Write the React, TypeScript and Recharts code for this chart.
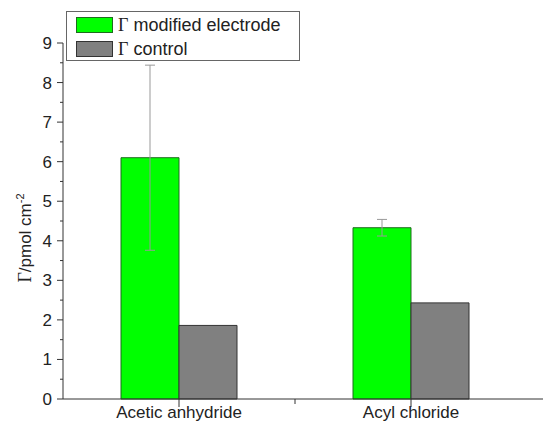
import { BarChart, Bar, XAxis, YAxis, ErrorBar } from 'recharts'

const categories = ['Acetic anhydride', 'Acyl chloride']
const modifiedValues = [6.1, 4.33]
const modifiedErrors = [2.34, 0.21]
const controlValues = [1.86, 2.43]
const yTicks = [0, 0.5, 1, 1.5, 2, 2.5, 3, 3.5, 4, 4.5, 5, 5.5, 6, 6.5, 7, 7.5, 8, 8.5, 9]

const chartData = categories.map((c, i) => ({
  category: c,
  modified: modifiedValues[i],
  modifiedErr: modifiedErrors[i],
  control: controlValues[i],
}))

const FONT = 'Arial, "Liberation Sans", sans-serif'
const SERIF = '"Liberation Serif", "Times New Roman", serif'
const GREEN = '#00ff00'
const GRAY = '#808080'

const YTick = (props: any) => {
  const { x, y, payload } = props
  const v = payload.value
  const major = Number.isInteger(v)
  return (
    <g>
      <line x1={x - (major ? 6 : 3)} x2={x} y1={y} y2={y} stroke="#333" strokeWidth={1} />
      {major && (
        <text x={x - 11} y={y} dy={6} textAnchor="end" fontSize={17} fontFamily={FONT} fill="#222">
          {v}
        </text>
      )}
    </g>
  )
}

const XTick = (props: any) => {
  const { x, y, payload } = props
  const half = payload.offset || 116
  return (
    <g>
      <line x1={x} x2={x} y1={y} y2={y + 8} stroke="#333" strokeWidth={1} />
      {payload.index === 0 && (
        <line x1={x + half} x2={x + half} y1={y} y2={y + 5} stroke="#333" strokeWidth={1} />
      )}
      <text x={x} y={y + 19} textAnchor="middle" fontSize={17} fontFamily={FONT} fill="#222">
        {payload.value}
      </text>
    </g>
  )
}

const legendItems = [
  { label: 'modified electrode', fill: GREEN, stroke: '#1e6b1e' },
  { label: 'control', fill: GRAY, stroke: '#333' },
]

const LegendBox = () => (
  <div
    style={{
      position: 'absolute',
      left: 66,
      top: 11,
      width: 232,
      height: 48,
      border: '1px solid #666',
      background: '#fff',
    }}
  >
    {legendItems.map((it, i) => (
      <div key={i} style={{ display: 'flex', alignItems: 'center', height: 24, marginTop: i === 0 ? 1 : 0 }}>
        <div
          style={{
            width: 35,
            height: 14,
            marginLeft: 9,
            background: it.fill,
            border: `1px solid ${it.stroke}`,
          }}
        />
        <span style={{ marginLeft: 5, fontSize: 18, fontFamily: SERIF, color: '#222' }}>Γ</span>
        <span style={{ marginLeft: 5, fontSize: 18, fontFamily: FONT, color: '#222' }}>{it.label}</span>
      </div>
    ))}
  </div>
)

const YLabel = () => (
  <text
    transform="translate(31, 238) rotate(-90)"
    textAnchor="middle"
    fontSize={17}
    fontFamily={FONT}
    fill="#222"
  >
    <tspan fontFamily={SERIF} fontSize={18}>Γ</tspan>
    <tspan>/pmol cm</tspan>
    <tspan dy={-7} fontSize={11}>-2</tspan>
  </text>
)

export default function App() {
  return (
    <div style={{ position: 'absolute', left: 0, top: 0, width: 543, height: 428, background: '#fff' }}>
      <BarChart
        width={543}
        height={428}
        data={chartData}
        margin={{ top: 43, right: 0, left: 0, bottom: 0 }}
        barCategoryGap="25%"
        barGap={0}
      >
        <XAxis
          dataKey="category"
          height={29}
          padding={{ left: 0, right: 16 }}
          axisLine={{ stroke: '#333' }}
          tickLine={false}
          tickSize={0}
          tickMargin={0}
          tick={<XTick />}
          interval={0}
        />
        <YAxis
          width={63}
          domain={[0, 9]}
          ticks={yTicks}
          interval={0}
          axisLine={{ stroke: '#333' }}
          tickLine={false}
          tickSize={0}
          tickMargin={0}
          tick={<YTick />}
          label={<YLabel />}
        />
        <Bar dataKey="modified" fill={GREEN} stroke="#1e6b1e" strokeWidth={1} isAnimationActive={false}>
          <ErrorBar dataKey="modifiedErr" stroke="#999" strokeWidth={1} width={5} direction="y" />
        </Bar>
        <Bar dataKey="control" fill={GRAY} stroke="#333" strokeWidth={1} isAnimationActive={false} />
      </BarChart>
      <LegendBox />
    </div>
  )
}
